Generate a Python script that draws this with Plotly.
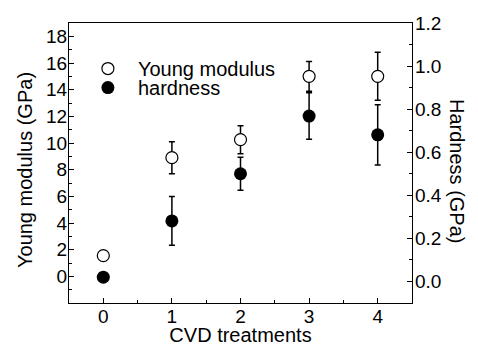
import plotly.graph_objects as go

cvd = [0, 1, 2, 3, 4]
young = [1.55, 8.9, 10.25, 15.0, 15.0]
young_err = [0.3, 1.2, 1.05, 1.12, 1.8]
hardness = [0.02, 0.281, 0.50, 0.768, 0.681]
hardness_err = [0.0, 0.113, 0.077, 0.108, 0.14]

FONT = "Liberation Sans, Arial, sans-serif"
TICKFONT = dict(family=FONT, size=19, color="black")
TITLE_SIZE = 20

fig = go.Figure()
fig.add_trace(go.Scatter(
    x=cvd, y=young, mode="markers", name="Young modulus",
    marker=dict(symbol="circle", size=12, color="white", line=dict(color="black", width=1.2)),
    error_y=dict(type="data", array=young_err, visible=True, color="black", thickness=1.5, width=3),
    yaxis="y", legend="legend",
))
fig.add_trace(go.Scatter(
    x=cvd, y=hardness, mode="markers", name="hardness",
    marker=dict(symbol="circle", size=13, color="black", line=dict(color="black", width=0)),
    error_y=dict(type="data", array=hardness_err, visible=True, color="black", thickness=1.5, width=3),
    yaxis="y2", legend="legend2",
))

leg_common = dict(xanchor="left", yanchor="top", bgcolor="rgba(0,0,0,0)",
                  font=dict(family=FONT, size=TITLE_SIZE, color="black"),
                  itemwidth=50, itemsizing="trace")

tick_common = dict(ticks="inside", ticklen=5, tickcolor="black", tickwidth=1.2,
                   showline=True, linecolor="black", linewidth=1.2,
                   showgrid=False, zeroline=False, automargin=False, tickfont=TICKFONT)

fig.update_layout(
    width=478, height=346,
    margin=dict(l=69, r=66, t=23, b=43),
    paper_bgcolor="white", plot_bgcolor="white",
    font=dict(family=FONT, size=TITLE_SIZE, color="black"),
    showlegend=True,
    legend=dict(x=0.026, y=0.907, **leg_common),
    legend2=dict(x=0.026, y=0.839, **leg_common),
    xaxis=dict(range=[-0.5, 4.5], tickvals=[0, 1, 2, 3, 4], mirror=True,
               ticklabelstandoff=-4,
               minor=dict(tickvals=[0.5, 1.5, 2.5, 3.5], ticks="inside", ticklen=3,
                          tickcolor="black", tickwidth=1.2),
               title=dict(text="CVD treatments", standoff=0, font=dict(size=TITLE_SIZE)),
               **tick_common),
    yaxis=dict(range=[-2, 19], tickvals=list(range(0, 19, 2)),
               ticklabelstandoff=-3,
               minor=dict(tickvals=list(range(-1, 19, 2)), ticks="inside", ticklen=3,
                          tickcolor="black", tickwidth=1.2),
               **tick_common),
    yaxis2=dict(range=[-0.1, 1.2], tickvals=[0, 0.2, 0.4, 0.6, 0.8, 1.0, 1.2],
                tickformat=".1f", overlaying="y", side="right",
                ticklabelstandoff=-2,
                minor=dict(tickvals=[0.1, 0.3, 0.5, 0.7, 0.9, 1.1], ticks="inside", ticklen=3,
                           tickcolor="black", tickwidth=1.2),
                **tick_common),
    annotations=[
        dict(text="Young modulus (GPa)", textangle=-90, xref="paper", yref="paper",
             x=0.0, y=0.5, xshift=-57, yshift=-7, showarrow=False,
             font=dict(size=TITLE_SIZE)),
        dict(text="Hardness (GPa)", textangle=90, xref="paper", yref="paper",
             x=1.0, y=0.5, xshift=58, yshift=-8, showarrow=False,
             font=dict(size=TITLE_SIZE)),
    ],
)

fig.write_html("out.html", config={"displayModeBar": False},
               post_script="document.body.style.margin='0px';")
